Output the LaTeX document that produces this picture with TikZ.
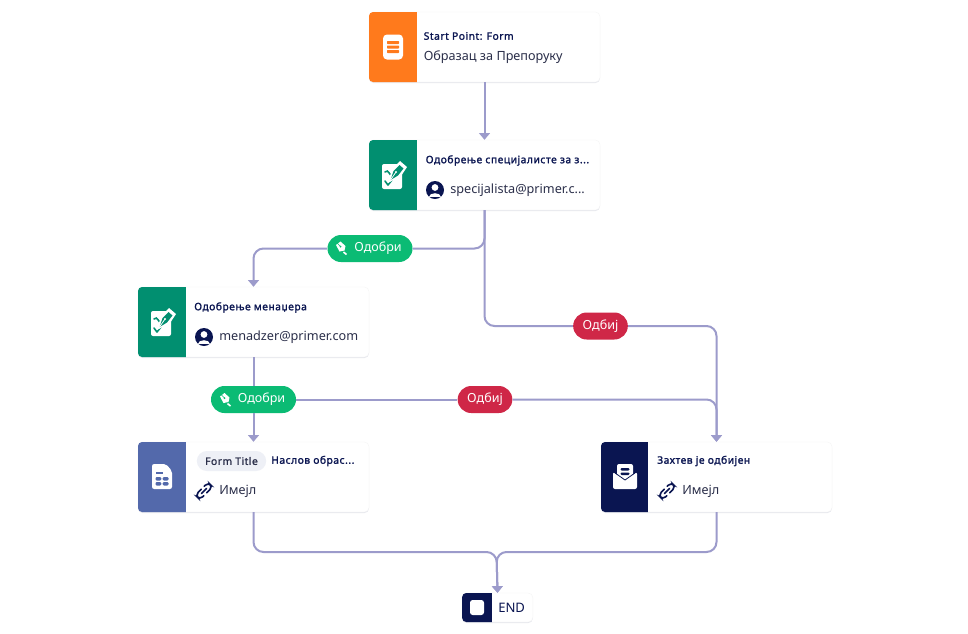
\documentclass[tikz,border=0pt]{standalone}
\usepackage{fontspec}
\setmainfont{Noto Sans}
\newfontfamily\heavyfont[FakeBold=1.4,LetterSpace=5]{Noto Sans}
\usetikzlibrary{arrows.meta,shadows,shapes.misc}
\definecolor{navy}{HTML}{0A1551}
\definecolor{bodytxt}{HTML}{2B2F4A}
\definecolor{edgec}{HTML}{9C9BCB}
\definecolor{orangec}{HTML}{FF7A1C}
\definecolor{tealc}{HTML}{018F70}
\definecolor{bluec}{HTML}{5369AB}
\definecolor{greenp}{HTML}{0BBB74}
\definecolor{redp}{HTML}{CF2747}
\definecolor{chip}{HTML}{EEF0F6}
\tikzset{
  x=0.75pt,y=-0.75pt,
  card/.style={draw=black!4,line width=0.3pt,fill=white,rounded corners=3.5pt,minimum width=173.25pt,minimum height=52.5pt,inner sep=0pt,
    drop shadow={shadow xshift=0pt,shadow yshift=-0.8pt,opacity=0.10,fill=navy}},
  endcard/.style={card,minimum width=53pt,minimum height=21.75pt},
  edge/.style={draw=edgec,line width=1.5pt,rounded corners=7.5pt},
  arrowed/.style={edge,-{Triangle[length=5pt,width=8pt,fill=edgec]}},
  pill/.style={rounded rectangle,text=white,inner sep=0pt,minimum height=20.25pt,font=\fontsize{9.4}{11}\selectfont},
  ok/.style={pill,fill=greenp,minimum width=63.75pt},
  no/.style={pill,fill=redp,minimum width=41pt},
  title/.style={anchor=west,inner sep=0pt,text=navy,font=\heavyfont\fontsize{7.7}{9}\selectfont},
  body/.style={anchor=west,inner sep=0pt,text=bodytxt,font=\fontsize{9.5}{12}\selectfont},
  chiptext/.style={anchor=center,inner sep=0pt,text=bodytxt,fill=chip,rounded rectangle,minimum width=52pt,minimum height=15pt,font=\heavyfont\fontsize{7.7}{9}\selectfont},
  endtext/.style={anchor=west,inner sep=0pt,text=navy,font=\fontsize{9.8}{12}\selectfont},
  pics/formicon/.style={code={
    \fill[white,rounded corners=3pt] (-10,-12.5) rectangle (10,12.5);
    \fill[orangec,rounded corners=0.5pt] (-6,-6) rectangle (6,-3) (-6,-1.5) rectangle (6,1.5) (-6,3) rectangle (6,6);
  }},
  pics/signicon/.style={code={
    \fill[white,rounded corners=1.5pt] (-11,-11) rectangle (9,14);
    \draw[tealc,line width=1.2pt,line cap=round,line join=round] (-8,6) -- (-5,10) -- (-1,5);
    \draw[tealc,line width=1.2pt,line cap=round] (-8,-3) .. controls (-4,-7) and (-4,2) .. (-1,-1);
    \fill[white] (-5,8) -- (-1,-6) -- (7,-14) -- (14,-8) -- (8,1) -- cycle;
    \fill[tealc] (-2.5,5) -- (0.5,-4) -- (6.5,-10) -- (10.5,-6.5) -- (5,0.5) -- cycle;
    \fill[white] (3,-3) circle (1.2);
    \draw[white,line width=0.6pt] (-2.5,5) -- (3,-3);
  }},
  pics/tableicon/.style={code={
    \fill[white,rounded corners=1.6pt] (-10,-13) -- (4,-13) -- (10,-6) -- (10,12) -- (-10,12) -- cycle;
    \fill[bluec] (-6.5,-5) rectangle (1,-3);
    \fill[bluec,rounded corners=0.8pt] (-6.5,0) rectangle (-0.7,3.5) (0.7,0) rectangle (6.5,3.5) (-6.5,5) rectangle (-0.7,8.5) (0.7,5) rectangle (6.5,8.5);
  }},
  pics/mailicon/.style={code={
    \fill[white,rounded corners=1.5pt] (-8,-13) rectangle (8,2);
    \fill[navy,rounded corners=0.8pt] (-4.5,-9) rectangle (4.5,-6.5) (-4.5,-4.5) rectangle (4.5,-2);
    \fill[white,rounded corners=1.5pt] (-12,-5) -- (0,3) -- (12,-5) -- (12,12) -- (-12,12) -- cycle;
    \draw[navy,line width=0.6pt] (-12,-5.5) -- (0,3) -- (12,-5.5);
  }},
  pics/person/.style={code={
    \fill[navy] (0,0) circle (9);
    \fill[white] (0,-2.5) circle (3.4);
    \begin{scope}\clip (0,0) circle (9);
    \fill[white] (-6,7) .. controls (-6,1.5) and (6,1.5) .. (6,7) -- cycle;
    \end{scope}
  }},
  pics/linkicon/.style={code={
    \begin{scope}[rotate=45]
      \draw[navy,line width=1.2pt,line cap=round,rounded corners=3pt] (-0.5,-3.2) -- (-9,-3.2) -- (-9,3.2) -- (-3.5,3.2);
      \draw[navy,line width=1.2pt,line cap=round,rounded corners=3pt] (0.5,3.2) -- (9,3.2) -- (9,-3.2) -- (3.5,-3.2);
      \draw[navy,line width=1.2pt,line cap=round] (-3.5,0) -- (3.5,0);
    \end{scope}
  }},
  pics/penmini/.style={code={
    \fill[white] (-6,-3) -- (-1.5,-6.5) -- (3.5,-2) -- (2.5,2.5) -- (-2.5,3.5) -- cycle;
    \fill[greenp] (-1.5,-1.5) circle (1);
    \draw[greenp,line width=0.5pt] (-6,-6) -- (-1.5,-1.5);
    \draw[white,line width=1.2pt] (1.5,4) -- (4.5,6.5);
  }}
}
\newcommand{\stripfill}[3]{%
  \begin{scope}
    \clip[rounded corners=3.5pt] (#1.north west) rectangle (#1.south east);
    \fill[#2] (#1.north west) rectangle ++(#3,80);
  \end{scope}}
\begin{document}
\begin{tikzpicture}
\useasboundingbox (0,0) rectangle (968,633);
\fill[white] (0,0) rectangle (968,633);

% cards
\node[card] (c1) at (484.5,47) {};
\node[card] (c2) at (484.5,175) {};
\node[card] (c3) at (253.5,322) {};
\node[card] (c4) at (253.5,477) {};
\node[card] (c5) at (716.5,477) {};
\node[endcard] (e) at (497.5,607.5) {};

% pills
\node[ok] (pa) at (370,248.5) {\hspace{12pt}Одобри};
\node[ok] (pb) at (253.5,399.5) {\hspace{12pt}Одобри};
\node[no] (pc) at (485,399.5) {Одбиј};
\node[no] (pd) at (600.5,326) {Одбиј};
\coordinate (m) at (496.5,552);

% connectors
\draw[arrowed] (c1.south) -- (c2.north);
\draw[edge] (c2.south) |- (pa.east);
\draw[arrowed] (pa.west) -| (c3.north);
\draw[edge] (c2.south) |- (pd.west);
\draw[arrowed] (pd.east) -| (c5.north);
\draw[edge] (c3.south) -- (pb.north);
\draw[arrowed] (pb.south) -- (c4.north);
\draw[edge] (pb.east) -- (pc.west);
\draw[arrowed] (pc.east) -| (c5.north);
\draw[arrowed] (c4.south) |- (m) -- (e.north);
\draw[arrowed] (c5.south) |- (m) -- (e.north);

% strips
\stripfill{c1}{orangec}{48}
\stripfill{c2}{tealc}{48}
\stripfill{c3}{tealc}{48}
\stripfill{c4}{bluec}{48}
\stripfill{c5}{navy}{47.5}
\begin{scope}
  \clip[rounded corners=3.5pt] (e.north west) rectangle (e.south east);
  \fill[navy] (e.north west) rectangle ++(30,40);
\end{scope}
\fill[white,rounded corners=2pt] (470,600) rectangle (484,615);

% strip icons
\pic at (393,47) {formicon};
\pic at (393,175) {signicon};
\pic at (162,322) {signicon};
\pic at (162,477) {tableicon};
\pic at (625,477) {mailicon};
\pic at (342,248) {penmini};
\pic at (226,399.5) {penmini};

% text of the cards
\node[title] (t1) at (423.5,36) {Start Point: Form};
\node[body] (b1) at (423.5,57.5) {Образац за Препоруку};
\node[title] (t2) at (425.5,160.5) {Одобрење специјалисте за з...};
\pic at (435,190) {person};
\node[body] (b2) at (450,190.5) {specijalista@primer.c...};
\node[title] (t3) at (194,307.5) {Одобрење менаџера};
\pic at (204,337) {person};
\node[body] (b3) at (219,337.5) {menadzer@primer.com};
\node[chiptext] (k4) at (231.5,461) {Form Title};
\node[title] (t4) at (271,461) {Наслов обрас...};
\pic at (204,491) {linkicon};
\node[body] (b4) at (219,491.5) {Имејл};
\node[title] (t5) at (657,461) {Захтев је одбијен};
\pic at (667,491) {linkicon};
\node[body] (b5) at (682,491.5) {Имејл};
\node[endtext] (te) at (498,608) {END};
\end{tikzpicture}
\end{document}
